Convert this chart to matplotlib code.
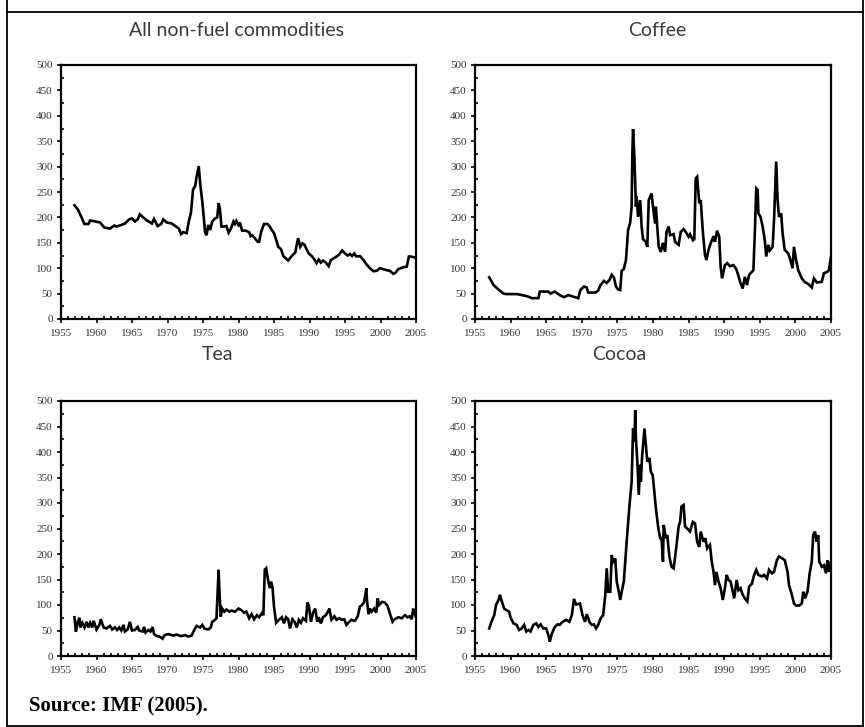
import matplotlib
matplotlib.use("Agg")
import matplotlib.pyplot as plt
from matplotlib.ticker import MultipleLocator
from matplotlib.lines import Line2D

W, H = 865, 727

# ---------------- data ----------------
nonfuel_years = [1956.9, 1957.4, 1957.9, 1958.3, 1958.85, 1959.1, 1959.8, 1960.5, 1961.1, 1961.9,
                 1962.5, 1962.8, 1963.5, 1964.0, 1964.6, 1965.0, 1965.4, 1965.8, 1966.1, 1966.5,
                 1967.1, 1967.8, 1968.1, 1968.6, 1969.1, 1969.4, 1969.9, 1970.6, 1971.1, 1971.6,
                 1971.9, 1972.2, 1972.7, 1973.0, 1973.3, 1973.6, 1973.9, 1974.1, 1974.4, 1974.6,
                 1974.9, 1975.1, 1975.3, 1975.5, 1975.75, 1976.0, 1976.3, 1976.7, 1977.0, 1977.2,
                 1977.4, 1977.6, 1978.0, 1978.3, 1978.6, 1978.9, 1979.3, 1979.5, 1979.7, 1980.0,
                 1980.2, 1980.5, 1981.0, 1981.5, 1981.7, 1981.9, 1982.3, 1982.7, 1982.9, 1983.2,
                 1983.6, 1984.1, 1984.4, 1984.7, 1985.0, 1985.3, 1985.6, 1986.0, 1986.3, 1986.7,
                 1987.0, 1987.5, 1988.0, 1988.2, 1988.4, 1988.7, 1989.0, 1989.3, 1989.6, 1989.9,
                 1990.3, 1990.7, 1991.0, 1991.3, 1991.6, 1991.9, 1992.3, 1992.7, 1993.0, 1993.6,
                 1994.1, 1994.6, 1995.0, 1995.4, 1995.7, 1996.0, 1996.3, 1996.6, 1997.1, 1997.6,
                 1998.0, 1998.5, 1999.0, 1999.5, 1999.9, 2000.4, 2000.9, 2001.3, 2001.8, 2002.1,
                 2002.5, 2003.2, 2003.7, 2004.0, 2004.3, 2004.8, 2005.0]
nonfuel_values = [224, 215, 200, 187, 187, 194, 192, 190, 180, 178,
                  184, 182, 185, 188, 196, 198, 192, 196, 206, 201,
                  194, 188, 197, 183, 187, 196, 190, 188, 183, 178,
                  167, 171, 169, 192, 209, 255, 262, 280, 301, 267,
                  231, 201, 170, 165, 185, 175, 192, 198, 200, 228,
                  215, 182, 182, 183, 170, 177, 192, 187, 193, 185,
                  190, 174, 174, 171, 163, 165, 159, 152, 152, 172,
                  187, 187, 182, 175, 169, 156, 142, 137, 124, 119,
                  115, 124, 131, 146, 159, 142, 149, 146, 137, 129,
                  124, 117, 110, 117, 111, 115, 111, 104, 116, 121,
                  126, 135, 129, 125, 128, 124, 129, 123, 124, 116,
                  108, 100, 94, 95, 100, 98, 96, 95, 89, 91,
                  98, 102, 103, 123, 123, 121, 121]

coffee_years = [1957.0, 1957.6, 1958.3, 1959.0, 1959.4, 1960.9, 1962.3, 1963.0, 1963.9, 1964.1,
                1965.3, 1965.6, 1966.2, 1966.9, 1967.5, 1968.1, 1968.8, 1969.5, 1969.8, 1970.3,
                1970.7, 1970.9, 1971.9, 1972.3, 1972.6, 1973.1, 1973.5, 1973.9, 1974.2, 1974.5,
                1974.8, 1975.1, 1975.4, 1975.6, 1975.9, 1976.2, 1976.5, 1976.8, 1977.0, 1977.1,
                1977.2, 1977.4, 1977.6, 1977.7, 1977.9, 1978.2, 1978.4, 1978.6, 1979.0, 1979.2,
                1979.4, 1979.8, 1980.0, 1980.3, 1980.4, 1980.8, 1981.1, 1981.4, 1981.7, 1981.9,
                1982.2, 1982.4, 1982.9, 1983.1, 1983.6, 1983.9, 1984.3, 1984.7, 1985.0, 1985.2,
                1985.6, 1985.8, 1986.0, 1986.2, 1986.5, 1986.7, 1987.0, 1987.3, 1987.5, 1987.8,
                1988.1, 1988.5, 1988.7, 1989.0, 1989.3, 1989.5, 1989.7, 1990.1, 1990.4, 1990.8,
                1991.3, 1991.7, 1992.0, 1992.3, 1992.6, 1992.9, 1993.2, 1993.5, 1994.1, 1994.3,
                1994.5, 1994.7, 1994.8, 1995.1, 1995.4, 1995.7, 1995.9, 1996.2, 1996.4, 1996.8,
                1997.0, 1997.3, 1997.5, 1997.7, 1998.0, 1998.2, 1998.5, 1999.0, 1999.3, 1999.6,
                1999.8, 2000.1, 2000.4, 2000.9, 2001.3, 2001.8, 2002.3, 2002.6, 2003.0, 2003.7,
                2004.0, 2004.5, 2004.7, 2005.0]
coffee_values = [82, 67, 58, 50, 49, 49, 45, 41, 41, 54,
                 54, 50, 54, 47, 43, 47, 44, 41, 57, 64,
                 62, 52, 52, 56, 66, 75, 71, 77, 87, 82,
                 64, 58, 57, 95, 98, 116, 175, 190, 221, 326,
                 374, 313, 221, 241, 201, 234, 182, 157, 152, 142,
                 234, 247, 221, 188, 221, 142, 132, 150, 132, 172,
                 182, 165, 167, 152, 146, 172, 177, 169, 162, 167,
                 155, 157, 277, 280, 228, 234, 172, 126, 116, 136,
                 149, 163, 152, 174, 162, 103, 80, 106, 110, 104,
                 106, 98, 85, 70, 60, 83, 67, 87, 96, 169,
                 257, 254, 208, 201, 182, 155, 123, 146, 135, 142,
                 195, 310, 234, 201, 208, 169, 136, 129, 116, 100,
                 142, 116, 96, 80, 73, 69, 62, 80, 72, 73,
                 90, 93, 96, 123]

tea_years = [1956.9, 1957.1, 1957.3, 1957.6, 1957.7, 1958.0, 1958.3, 1958.6, 1958.85, 1959.1,
             1959.4, 1959.6, 1960.0, 1960.4, 1960.6, 1961.0, 1961.4, 1961.9, 1962.2, 1962.6,
             1962.9, 1963.2, 1963.5, 1963.8, 1964.0, 1964.4, 1964.7, 1965.0, 1965.4, 1965.8,
             1966.0, 1966.5, 1966.7, 1966.9, 1967.3, 1967.6, 1967.9, 1968.1, 1968.5, 1968.9,
             1969.3, 1969.6, 1970.1, 1970.8, 1971.3, 1971.9, 1972.5, 1972.9, 1973.4, 1973.8,
             1974.1, 1974.6, 1974.9, 1975.2, 1975.75, 1976.1, 1976.3, 1976.7, 1976.9, 1977.1,
             1977.2, 1977.3, 1977.5, 1977.7, 1978.0, 1978.3, 1978.7, 1979.0, 1979.5, 1980.0,
             1980.4, 1980.8, 1981.1, 1981.5, 1981.85, 1982.2, 1982.6, 1982.9, 1983.3, 1983.5,
             1983.7, 1983.9, 1984.2, 1984.4, 1984.6, 1984.8, 1985.0, 1985.3, 1985.7, 1986.1,
             1986.4, 1986.7, 1987.0, 1987.25, 1987.6, 1987.9, 1988.2, 1988.5, 1988.8, 1989.1,
             1989.5, 1989.7, 1989.9, 1990.2, 1990.5, 1990.8, 1991.1, 1991.3, 1991.6, 1991.9,
             1992.3, 1992.6, 1992.8, 1993.1, 1993.5, 1993.8, 1994.2, 1994.5, 1994.9, 1995.2,
             1995.6, 1995.9, 1996.4, 1996.8, 1997.1, 1997.4, 1997.7, 1998.0, 1998.1, 1998.3,
             1998.5, 1998.75, 1999.1, 1999.4, 1999.6, 1999.8, 2000.2, 2000.6, 2001.0, 2001.3,
             2001.7, 2002.0, 2002.5, 2003.0, 2003.45, 2003.8, 2004.1, 2004.4, 2004.6, 2004.9,
             2005.0]
tea_values = [76, 48, 64, 75, 56, 65, 56, 67, 56, 65,
              56, 69, 52, 61, 72, 56, 54, 59, 52, 56,
              51, 56, 50, 61, 48, 52, 67, 50, 51, 57,
              50, 48, 57, 46, 51, 48, 57, 43, 39, 38,
              34, 41, 43, 40, 42, 39, 41, 38, 40, 52,
              59, 56, 61, 54, 52, 56, 67, 71, 74, 139,
              169, 129, 77, 93, 87, 91, 87, 89, 87, 93,
              90, 85, 87, 74, 82, 72, 80, 76, 84, 80,
              169, 172, 146, 133, 146, 133, 97, 65, 71, 76,
              64, 76, 72, 54, 72, 67, 56, 71, 65, 74,
              69, 105, 100, 67, 85, 93, 67, 76, 64, 76,
              80, 87, 93, 71, 78, 71, 74, 71, 72, 61,
              67, 71, 69, 78, 97, 100, 106, 133, 109, 82,
              93, 87, 93, 85, 113, 100, 106, 105, 98, 84,
              67, 72, 76, 74, 80, 76, 78, 72, 93, 80,
              82]

cocoa_years = [1957.0, 1957.3, 1957.7, 1957.95, 1958.3, 1958.5, 1958.7, 1959.1, 1959.4, 1959.8,
               1960.0, 1960.4, 1960.85, 1961.2, 1961.55, 1961.9, 1962.2, 1962.5, 1962.8, 1963.2,
               1963.6, 1963.9, 1964.2, 1964.6, 1965.0, 1965.3, 1965.5, 1965.8, 1966.2, 1966.6,
               1966.9, 1967.3, 1967.8, 1968.25, 1968.6, 1968.9, 1969.2, 1969.75, 1970.1, 1970.45,
               1970.7, 1971.1, 1971.4, 1971.7, 1972.0, 1972.3, 1972.65, 1973.0, 1973.3, 1973.5,
               1973.7, 1974.0, 1974.2, 1974.4, 1974.7, 1974.9, 1975.1, 1975.4, 1975.6, 1975.9,
               1976.3, 1976.7, 1977.0, 1977.1, 1977.2, 1977.4, 1977.5, 1977.6, 1977.8, 1978.0,
               1978.2, 1978.3, 1978.45, 1978.6, 1978.8, 1979.0, 1979.2, 1979.5, 1979.7, 1979.95,
               1980.1, 1980.4, 1980.75, 1981.0, 1981.2, 1981.4, 1981.5, 1981.8, 1982.0, 1982.3,
               1982.6, 1982.9, 1983.2, 1983.6, 1983.8, 1984.0, 1984.3, 1984.5, 1984.8, 1985.2,
               1985.6, 1985.9, 1986.2, 1986.5, 1986.7, 1987.1, 1987.35, 1987.6, 1988.0, 1988.25,
               1988.5, 1988.7, 1988.9, 1989.2, 1989.5, 1989.8, 1990.1, 1990.35, 1990.6, 1990.9,
               1991.2, 1991.4, 1991.75, 1992.0, 1992.3, 1992.6, 1992.9, 1993.25, 1993.5, 1993.9,
               1994.2, 1994.5, 1994.8, 1995.3, 1995.6, 1996.0, 1996.3, 1996.7, 1997.0, 1997.4,
               1997.7, 1998.2, 1998.5, 1998.9, 1999.1, 1999.5, 1999.8, 2000.1, 2000.55, 2000.9,
               2001.1, 2001.35, 2001.7, 2002.0, 2002.3, 2002.5, 2002.75, 2003.0, 2003.2, 2003.35,
               2003.7, 2004.0, 2004.3, 2004.5, 2004.75, 2004.9, 2005.0]
cocoa_values = [54, 67, 80, 100, 110, 120, 110, 93, 90, 87,
                75, 64, 61, 51, 54, 61, 48, 51, 48, 61,
                64, 57, 62, 54, 54, 41, 28, 44, 57, 62,
                61, 67, 71, 67, 80, 112, 101, 103, 80, 67,
                82, 66, 61, 62, 54, 61, 74, 80, 120, 172,
                126, 126, 198, 185, 191, 146, 133, 110, 126, 146,
                224, 296, 342, 397, 446, 420, 482, 427, 381, 316,
                375, 342, 388, 414, 446, 414, 381, 388, 361, 355,
                335, 290, 250, 231, 231, 185, 257, 231, 237, 195,
                175, 172, 205, 254, 263, 293, 296, 254, 250, 244,
                263, 260, 224, 214, 244, 224, 231, 211, 218, 185,
                165, 139, 165, 146, 133, 110, 133, 159, 149, 146,
                126, 113, 149, 129, 133, 120, 113, 107, 136, 142,
                159, 169, 159, 156, 159, 152, 169, 162, 165, 188,
                195, 191, 188, 165, 139, 120, 103, 99, 99, 103,
                126, 113, 126, 162, 185, 237, 244, 224, 237, 185,
                175, 178, 162, 188, 165, 185, 170]

panel_titles = ["All non-fuel commodities", "Coffee", "Tea", "Cocoa"]
x_ticks = [1955, 1960, 1965, 1970, 1975, 1980, 1985, 1990, 1995, 2000, 2005]
y_ticks = [0, 50, 100, 150, 200, 250, 300, 350, 400, 450, 500]
source_text = "Source: IMF (2005)."

series = [(nonfuel_years, nonfuel_values), (coffee_years, coffee_values),
          (tea_years, tea_values), (cocoa_years, cocoa_values)]

# ---------------- layout ----------------
fig = plt.figure(figsize=(W / 100, H / 100), dpi=100)


def fx(px):
    return px / W


def fy(py):
    return 1 - py / H


# axes boxes in pixels: (left, top, right, bottom)
boxes = [(61, 65, 416, 319), (475, 65, 831, 319),
         (61, 401, 416, 656), (475, 401, 831, 656)]
title_pos = [(237, 31), (657, 31), (217, 355), (619, 355)]

for (l, t, r, b), (xs, ys) in zip(boxes, series):
    ax = fig.add_axes([fx(l), fy(b), (r - l) / W, (b - t) / H])
    ax.plot(xs, ys, color="black", lw=1.9, solid_joinstyle="miter")
    ax.set_xlim(1955, 2005)
    ax.set_ylim(0, 500)
    ax.set_xticks(x_ticks)
    ax.set_yticks(y_ticks)
    ax.xaxis.set_minor_locator(MultipleLocator(1))
    ax.yaxis.set_minor_locator(MultipleLocator(25))
    ax.tick_params(which="major", direction="out", length=3, width=1.2,
                   color="black", labelsize=8, labelcolor="#333333", pad=3)
    ax.tick_params(which="minor", direction="in", length=2.5, width=1.2, color="black")
    ax.tick_params(axis="x", which="major", pad=4)
    for lab in ax.get_xticklabels() + ax.get_yticklabels():
        lab.set_fontfamily("Liberation Serif")
    for sp in ax.spines.values():
        sp.set_linewidth(1.6)
        sp.set_color("black")

for (tx, ty), name in zip(title_pos, panel_titles):
    fig.text(fx(tx), fy(ty), name, ha="center", va="center",
             fontsize=14, family="Lato", fontweight="normal", color="#3a3a3a")

fig.text(fx(29), fy(706), source_text, ha="left", va="center",
         fontsize=15, family="Liberation Serif", fontweight="bold", color="black")

# outer frame
fig.add_artist(Line2D([fx(6.5), fx(6.5)], [fy(0), fy(726)], color="black", lw=1.3))
fig.add_artist(Line2D([fx(6.5), fx(862.5)], [fy(12), fy(12)], color="black", lw=1.3))
fig.add_artist(Line2D([fx(862.5), fx(862.5)], [fy(0), fy(726)], color="black", lw=1.3))
fig.add_artist(Line2D([fx(6.5), fx(862.5)], [fy(726), fy(726)], color="black", lw=1.3))

fig.savefig("out.png", dpi=100)
